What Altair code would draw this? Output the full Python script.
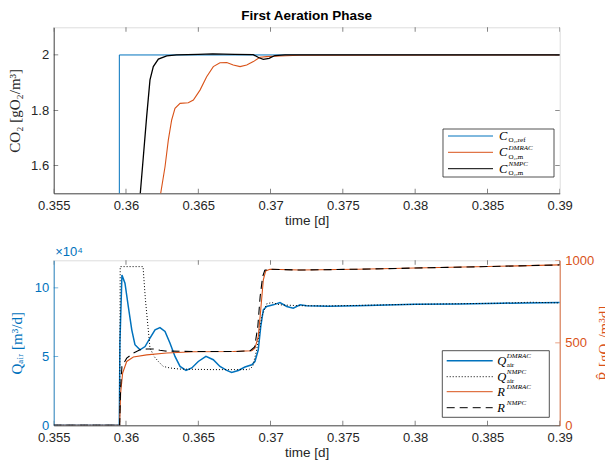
import altair as alt
import pandas as pd

# ---------------- data ----------------
x_ticks = [0.355, 0.36, 0.365, 0.37, 0.375, 0.38, 0.385, 0.39]
c_ticks = [1.6, 1.8, 2.0]
q_ticks = [0, 5, 10]
r_ticks = [0, 500, 1000]

# top panel: dissolved oxygen [g/m3]
t_cref = [0.355, 0.35954, 0.35954, 0.39]
c_ref = [0.3, 0.3, 2.0, 2.0]

t_c_nmpc = [0.355, 0.3596, 0.3605, 0.36099, 0.3612, 0.36143, 0.36166, 0.36189,
            0.36224, 0.36282, 0.3635, 0.365, 0.366, 0.3675, 0.3688, 0.3692,
            0.3695, 0.3699, 0.3703, 0.371, 0.39]
c_nmpc = [0.3, 0.3, 1.05, 1.5, 1.632, 1.777, 1.91, 1.958,
          1.985, 1.997, 2.0, 2.002, 2.004, 2.002, 2.001, 1.99,
          1.984, 1.988, 1.998, 2.0, 2.0]

t_c_dmrac = [0.355, 0.3596, 0.3620, 0.3624, 0.3627, 0.36293, 0.36316, 0.36339,
             0.36374, 0.36431, 0.36466, 0.36512, 0.36558, 0.36604, 0.3665,
             0.36697, 0.36742, 0.36789, 0.36835, 0.36881, 0.36927, 0.36973,
             0.37065, 0.372, 0.39]
c_dmrac = [0.3, 0.3, 1.33, 1.5, 1.596, 1.693, 1.765, 1.807,
           1.825, 1.827, 1.837, 1.873, 1.921, 1.958, 1.972,
           1.973, 1.964, 1.958, 1.964, 1.976, 1.992, 1.994,
           1.996, 1.999, 2.0]

# bottom panel: air flow (x 1e4 m3/d)
t_q_dmrac = [0.355, 0.35954, 0.35958, 0.35972, 0.35993, 0.36016, 0.3604, 0.36062,
             0.36097, 0.36132, 0.36166, 0.36201, 0.36235, 0.3627, 0.36304,
             0.36339, 0.36374, 0.36415, 0.36455, 0.365, 0.36553, 0.36604,
             0.3665, 0.36697, 0.36731, 0.36777, 0.36823, 0.3687, 0.36892,
             0.36915, 0.36932, 0.3695, 0.36973, 0.37019, 0.37065, 0.37112,
             0.37157, 0.37204, 0.3725, 0.374, 0.376, 0.378, 0.38, 0.383,
             0.386, 0.39]
q_dmrac = [0, 0, 6.0, 10.93, 10.33, 8.64, 6.94, 5.86,
           5.49, 5.73, 6.34, 6.94, 7.11, 6.82, 5.98,
           5.01, 4.28, 3.99, 4.17, 4.64, 5.01, 4.77,
           4.28, 3.99, 3.85, 3.99, 4.24, 4.4, 4.64,
           5.49, 7.18, 8.4, 8.64, 8.76, 8.93, 8.64,
           8.52, 8.76, 8.7, 8.65, 8.7, 8.75, 8.8, 8.83,
           8.88, 8.93]

t_q_nmpc = [0.355, 0.35956, 0.3596, 0.36118, 0.36134, 0.36166, 0.36195, 0.36224,
            0.36258, 0.36304, 0.3637, 0.366, 0.3685, 0.36877, 0.36904, 0.36939,
            0.36973, 0.37008, 0.37065, 0.372, 0.374, 0.376, 0.378, 0.38,
            0.383, 0.386, 0.388, 0.39]
q_nmpc = [0, 0, 11.54, 11.54, 9.2, 5.62, 5.0, 4.64,
          4.28, 4.17, 4.09, 4.05, 4.05, 4.28, 5.49, 7.91,
          8.83, 8.93, 8.76, 8.7, 8.68, 8.72, 8.76, 8.8,
          8.84, 8.88, 8.95, 8.9]

# bottom panel: estimated respiration [g/m3 d]
t_r_dmrac = [0.355, 0.35956, 0.35963, 0.35977, 0.36005, 0.36051, 0.36143, 0.36282,
             0.36466, 0.36742, 0.3687, 0.36892, 0.36915, 0.36932, 0.3695,
             0.36966, 0.36996, 0.37204, 0.376, 0.38, 0.385, 0.39]
r_dmrac = [0, 0, 196, 317, 387, 414, 427, 438,
           446, 447, 452, 468, 538, 700, 881,
           935, 946, 941, 946, 953, 962, 972]

t_r_nmpc = [0.355, 0.35956, 0.35963, 0.35972, 0.36005, 0.36051, 0.36097, 0.36143,
            0.36201, 0.36235, 0.3627, 0.3647, 0.3675, 0.3686, 0.3689, 0.36912,
            0.36928, 0.36945, 0.3696, 0.37, 0.372, 0.376, 0.38, 0.385, 0.39]
r_nmpc = [0, 0, 230, 357, 407, 438, 458, 462,
          462, 455, 450, 447, 447, 452, 475, 600,
          780, 900, 940, 946, 941, 946, 953, 962, 972]

# ---------------- styling ----------------
W, H1, H2 = 506, 166, 165
GRAY = "#262626"
BLUE = "#0072BD"
ORANGE = "#D95319"
SANS = "Liberation Sans"
SERIF = "Liberation Serif"

xs = alt.Scale(domain=[0.355, 0.39], nice=False, zero=False)
cs = alt.Scale(domain=[1.5, 2.1], nice=False, zero=False)
qs = alt.Scale(domain=[0, 12], nice=False, zero=False)
rs = alt.Scale(domain=[0, 1000], nice=False, zero=False)

one = pd.DataFrame({"k": [0]})

X_AXIS = alt.Axis(values=x_ticks, format="~f", title="time [d]", ticks=False,
                  tickSize=0, labelPadding=6, grid=False, domainColor=GRAY,
                  domainWidth=0.8, labelColor=GRAY, titleColor=GRAY,
                  labelFontSize=13, titleFontSize=13.5, titleFontWeight="normal",
                  titlePadding=1, labelFont=SANS, titleFont=SANS,
                  labelFlush=False, labelOverlap=False)


def y_axis(vals, title, color, orient="left", tpad=6, **extra):
    return alt.Axis(values=vals, format="~f", title=title, ticks=False, tickSize=0,
                    labelPadding=5, grid=False, domainColor=color, domainWidth=0.8,
                    labelColor=color, titleColor=color, labelFontSize=13,
                    titleFontSize=15, titleFontWeight="normal", titlePadding=tpad,
                    labelFont=SANS, titleFont=SERIF, orient=orient,
                    labelFlush=False, labelOverlap=False, **extra)


C_AXIS = y_axis(c_ticks, "CO₂ [gO₂/m³]", GRAY, tpad=8)
Q_AXIS = y_axis(q_ticks, "Qₐᵢᵣ [m³/d]", BLUE, tpad=10)
R_AXIS = y_axis(r_ticks, "R̂ [gO₂/m³d]", ORANGE, orient="right", tpad=3,
                titleAngle=270, titleBaseline="top")


def series(t, v, yscale, yaxis, color, width=1.0, dash=None):
    df = pd.DataFrame({"t": t, "v": v})
    kw = dict(color=color, strokeWidth=width, clip=True)
    if dash:
        kw["strokeDash"] = dash
    return alt.Chart(df).mark_line(**kw).encode(
        x=alt.X("t:Q", scale=xs, axis=X_AXIS),
        y=alt.Y("v:Q", scale=yscale, axis=yaxis),
    )


def x_inner_ticks(h):
    df = pd.DataFrame({"t": x_ticks})
    base = alt.Chart(df).mark_tick(orient="vertical", size=9, thickness=0.8,
                                    color=GRAY, clip=True)
    return [base.encode(x=alt.X("t:Q", scale=xs, axis=X_AXIS), y=alt.value(h)),
            base.encode(x=alt.X("t:Q", scale=xs, axis=X_AXIS), y=alt.value(0))]


def y_inner_ticks(vals, yscale, yaxis, color, sides):
    df = pd.DataFrame({"v": vals})
    base = alt.Chart(df).mark_tick(orient="horizontal", size=9, thickness=0.8,
                                    color=color, clip=True)
    return [base.encode(y=alt.Y("v:Q", scale=yscale, axis=yaxis), x=alt.value(s))
            for s in sides]


def txt(x, y, s, size, italic=False, color="black", font=SERIF):
    return alt.Chart(one).mark_text(align="left", baseline="middle", fontSize=size,
                                    font=font, fontStyle="italic" if italic else "normal",
                                    color=color).encode(
        x=alt.value(x), y=alt.value(y), text=alt.value(s))


def legend_entry(x0, x1, xt, y, color, main, sub, sup=None, dash=None, width=1.0):
    kw = dict(color=color, strokeWidth=width)
    if dash:
        kw["strokeDash"] = dash
    parts = [alt.Chart(one).mark_rule(**kw).encode(
        x=alt.value(x0), x2=alt.value(x1), y=alt.value(y))]
    parts.append(txt(xt, y, main, 12.5, italic=True))
    if sub:
        parts.append(txt(xt + 9.5, y + 4.2, sub, 7))
    if sup:
        parts.append(txt(xt + 9.5, y - 4.6, sup, 7, italic=True))
    return parts


def legend_box(x0, x1, y0, y1):
    return alt.Chart(one).mark_rect(fill="white", stroke=GRAY, strokeWidth=0.8).encode(
        x=alt.value(x0), x2=alt.value(x1), y=alt.value(y0), y2=alt.value(y1))


# ---------------- top panel ----------------
top_layers = [
    series(t_cref, c_ref, cs, C_AXIS, BLUE, 1.0),
    series(t_c_dmrac, c_dmrac, cs, C_AXIS, ORANGE, 1.1),
    series(t_c_nmpc, c_nmpc, cs, C_AXIS, "black", 1.3),
]
top_layers += x_inner_ticks(H1)
top_layers += y_inner_ticks(c_ticks, cs, C_AXIS, GRAY, [0, W])
top_layers.append(legend_box(389.3, 500.3, 101.7, 149.7))
top_layers += legend_entry(394.3, 439.3, 445.3, 108.7, BLUE, "C", "O₂,ref")
top_layers += legend_entry(394.3, 439.3, 445.3, 125.0, ORANGE, "C", "O₂,m", "DMRAC")
top_layers += legend_entry(394.3, 439.3, 445.3, 141.4, "black", "C", "O₂,m", "NMPC")

top = alt.layer(*top_layers).properties(
    width=W, height=H1,
    title=alt.TitleParams("First Aeration Phase", fontSize=13.5, fontWeight="bold",
                          font=SANS, color="black", anchor="middle", offset=5),
)

# ---------------- bottom panel ----------------
left_layers = [
    series(t_q_dmrac, q_dmrac, qs, Q_AXIS, BLUE, 1.5),
    series(t_q_nmpc, q_nmpc, qs, Q_AXIS, "black", 1.0, dash=[1, 2]),
]
left_layers += y_inner_ticks(q_ticks, qs, Q_AXIS, BLUE, [0])
left_layers += x_inner_ticks(H2)
left_layers.append(txt(1.5, -8.6, "×10⁴", 13, color=BLUE, font=SANS))
left = alt.layer(*left_layers)

right_layers = [
    series(t_r_dmrac, r_dmrac, rs, R_AXIS, ORANGE, 1.1),
    series(t_r_nmpc, r_nmpc, rs, R_AXIS, "black", 1.1, dash=[8, 5]),
]
right_layers += y_inner_ticks(r_ticks, rs, R_AXIS, ORANGE, [W])
right_layers.append(legend_box(388.6, 495.6, 90.4, 157.0))
right_layers += legend_entry(393, 439, 443.6, 100.4, BLUE, "Q", "air", "DMRAC", width=1.5)
right_layers += legend_entry(393, 439, 443.6, 116.4, "black", "Q", "air", "NMPC", dash=[1, 2])
right_layers += legend_entry(393, 439, 443.6, 131.4, ORANGE, "R", "", "DMRAC")
right_layers += legend_entry(393, 439, 443.6, 147.4, "black", "R", "", "NMPC", dash=[8, 5])
right = alt.layer(*right_layers)

bottom = alt.layer(left, right).resolve_scale(y="independent").properties(
    width=W, height=H2)

chart = alt.vconcat(top, bottom, spacing=67, bounds="flush").properties(
    autosize=alt.AutoSizeParams(type="none"),
    padding={"left": 45.7, "top": 19.3, "right": 45.3, "bottom": 434.7},
).configure_view(
    stroke=GRAY, strokeWidth=0.8
).configure(background="white")

chart.save("out.html", embed_options={"renderer": "svg", "actions": False})
